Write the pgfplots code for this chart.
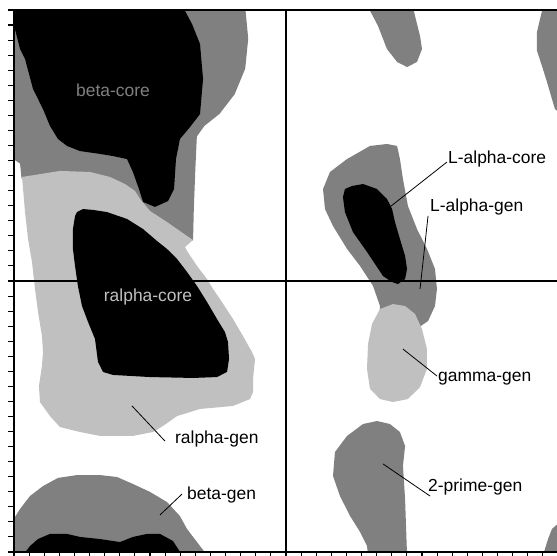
\documentclass[border=0pt]{standalone}
\usepackage{pgfplots}
\pgfplotsset{compat=1.18}
\usepackage{fontspec}
\setmainfont{Liberation Sans}
\definecolor{dgray}{HTML}{808080}
\definecolor{lgray}{HTML}{C0C0C0}
\tikzset{lbl/.style={font=\fontsize{17.5}{20}\selectfont, inner sep=0pt}}
\begin{document}
\begin{tikzpicture}
\useasboundingbox (0,0) rectangle (557bp,556bp);
\begin{axis}[
  at={(14bp,4bp)}, anchor=south west,
  scale only axis, width=544bp, height=542bp,
  xmin=-180, xmax=180, ymin=-180, ymax=180,
  xtick={-180,-170,...,180}, ytick={-180,-170,...,180},
  xticklabels={}, yticklabels={},
  tick align=outside, major tick length=6bp, tick pos=left,
  tick style={black, line width=1.1bp},
  axis line style={black, line width=1.3bp},
  axis on top, no markers,
]
% ---------- general (dark gray) regions ----------
\addplot[fill=dgray, draw=none] coordinates {
 (-182,182) (-27,182) (-25,161) (-27,141) (-34,124) (-44,111) (-54,103)
 (-59,96) (-60,74) (-61,48) (-61.5,27) (-90,31) (-123,55) (-175,68)
 (-176,78) (-182,82)};
\addplot[fill=dgray, draw=none] coordinates {
 (-182,-158.1) (-179.4,-156.8) (-176,-151.4) (-169.4,-142.8) (-160.8,-136.2)
 (-150.9,-130.8) (-138.3,-128.9) (-123.1,-128.9) (-111.8,-130.2) (-101.3,-134.8)
 (-90,-140.1) (-78.8,-146.8) (-70.2,-156.1) (-65.5,-164.7) (-58.9,-173.4)
 (-52.3,-182) (-182,-182)};
\addplot[fill=dgray, draw=none] coordinates {
 (170.1,182) (168.1,174) (166.1,165.4) (166.1,152.8) (169.4,142.8)
 (172.7,132.2) (176,120.9) (178,114.2) (182,111) (182,182)};
\addplot[fill=dgray, draw=none] coordinates {
 (170.1,-182) (173.4,-171.4) (176,-164.7) (182,-159.4) (182,-182)};
\addplot[fill=dgray, draw=none] coordinates {
 (54.3,182) (60.9,169.4) (66.8,154.1) (73.5,145.5) (80.1,142.1)
 (86.7,145.5) (90,154.1) (88.7,162.7) (85.4,176) (84,182)};
\addplot[fill=dgray, draw=none] coordinates {
 (66.8,91) (55.6,89.7) (40.4,81) (29.1,72.4) (24.5,61.1) (25.8,47.8)
 (31.1,36.5) (40.4,21.3) (49,10) (57.6,-3.3) (62.2,-16.6) (62.2,-28.6)
 (72.1,-33.2) (85.4,-32.5) (94,-26.6) (98.6,-16.6) (99.9,-5.3) (98.6,8)
 (93.3,21.3) (86.7,34.5) (80.7,49.8) (77.4,67.7) (75.4,81) (73.5,89.7)};
\addplot[fill=dgray, draw=none] coordinates {
 (60.2,-93) (51,-95) (40.4,-102.9) (32.4,-113.6) (31.1,-129.5) (35.7,-142.8)
 (42.4,-156.1) (49,-166.7) (53.6,-176) (54.3,-182) (80.1,-182) (78.8,-144.8)
 (77.4,-122.9) (78.8,-109.6) (75.4,-100.3) (68.8,-95)};
% ---------- light gray regions ----------
\addplot[fill=lgray, draw=none] coordinates {
 (-174.7,69.1) (-149.6,73.1) (-129.7,72.4) (-116.5,69.1) (-106.5,64.4)
 (-99.9,59.8) (-96.6,54.5) (-90,46.5) (-78.8,39.2) (-65.5,29.9) (-61.5,27.2)
 (-66.8,22.6) (-65.5,19.9) (-58.9,10) (-52.3,1.3) (-48.3,-5.3) (-43.7,-12)
 (-35.1,-25.2) (-28.5,-36.5) (-22.5,-47.2) (-20.5,-51.8) (-21.8,-65.1)
 (-21.8,-73.7) (-23.8,-78.4) (-35.1,-83) (-56.9,-85) (-72.1,-89.7)
 (-81.4,-96.3) (-88,-100.3) (-101.3,-102.9) (-123.1,-102.9) (-136.3,-100.3)
 (-149.6,-97) (-156.2,-89.7) (-162.8,-80.4) (-163.5,-69.7) (-161.5,-56.5)
 (-160.8,-47.2) (-161.5,-36.5) (-164.1,-20.6) (-166.1,-5.3) (-168.1,12.6)
 (-170.7,27.9) (-172.7,45.8) (-174,61.1)};
\addplot[fill=lgray, draw=none] coordinates {
 (62.2,-18.6) (70.8,-15.3) (78.8,-16.6) (85.4,-21.9) (90,-31.9) (93.3,-45.2)
 (93.3,-58.4) (88.7,-70.4) (80.7,-78.4) (70.8,-80.4) (62.2,-78.4) (55.6,-71.7)
 (53.6,-58.4) (54.3,-41.8) (56.9,-28.6)};
% ---------- core (black) regions ----------
\addplot[fill=black, draw=none] coordinates {
 (-182,182) (-68.2,182) (-62.2,170.7) (-56.9,157.4) (-54.9,134.2) (-56.9,110.9)
 (-63.5,102.3) (-70.2,94.3) (-72.8,81) (-74.1,61.1) (-78.1,53.1) (-86.7,49.2)
 (-94.6,52.5) (-97.3,61.1) (-101.3,72.4) (-105.2,81) (-114.5,83) (-123.1,84.4)
 (-136.3,86.3) (-144.9,89.7) (-150.9,94.3) (-156.2,103) (-160.8,114.2)
 (-167.4,127.5) (-172.7,147.5) (-176,154.1) (-179.4,167.4) (-182,176)};
\addplot[fill=black, draw=none] coordinates {
 (-138.3,45.8) (-134.3,47.8) (-127.7,47.2) (-118.5,45.8) (-105.2,41.2)
 (-94.6,34.5) (-85.4,26.6) (-78.8,21.3) (-72.1,14.6) (-65.5,6) (-58.9,-3.3)
 (-52.3,-13.9) (-45.7,-25.2) (-40.4,-33.9) (-38.4,-40.5) (-37.7,-51.8)
 (-39,-60.4) (-45.7,-63.8) (-61.5,-64.4) (-90,-63.8) (-114.5,-62.4)
 (-121.1,-60.4) (-124.4,-53.8) (-126.4,-38.5) (-131,-27.2) (-135,-16.6)
 (-137.7,-3.3) (-139.6,10) (-141,21.3) (-141,34.5) (-139.6,43.2)};
\addplot[fill=black, draw=none] coordinates {
 (-174,-182) (-169.4,-176) (-164.1,-171.4) (-156.2,-168) (-144.9,-168)
 (-136.3,-170) (-123.1,-171.4) (-109.9,-173.4) (-101.3,-170) (-92,-168)
 (-83.4,-168) (-74.8,-172.7) (-68.8,-182)};
\addplot[fill=black, draw=none] coordinates {
 (43.7,63.1) (51,64.4) (60.2,61.1) (66.8,54.5) (70.2,47.8) (72.1,39.2)
 (75.4,27.9) (78.8,16.6) (80.1,8) (78.8,1.3) (74.1,-2) (70.2,-0.7)
 (64.2,3.3) (53.6,19.3) (44.3,32.5) (39,45.8) (37.7,55.8) (39,61.1)};
% ---------- cross lines ----------
\addplot[black, line width=1.2bp] coordinates {(0,-180) (0,180)};
\addplot[black, line width=1.2bp] coordinates {(-180,0) (180,0)};
% ---------- leader lines ----------
\addplot[black, line width=0.8bp] coordinates {(-101.9,-83) (-80.1,-106.3)};
\addplot[black, line width=0.8bp] coordinates {(-68.8,-141.5) (-83.4,-155.4)};
\addplot[black, line width=0.8bp] coordinates {(64.2,-121.5) (95.3,-142.8)};
\addplot[black, line width=0.8bp] coordinates {(77.4,-45.2) (99.9,-63.1)};
\addplot[black, line width=0.8bp] coordinates {(106.5,79) (68.8,49.2)};
\addplot[black, line width=0.8bp] coordinates {(94,43.2) (88.7,-5.3)};
% ---------- labels ----------
\node[lbl, text=dgray] at (axis cs:-114.5,126.9) {beta-core};
\node[lbl, text=lgray] at (axis cs:-91.3,-10.6) {ralpha-core};
\node[lbl, anchor=west] at (axis cs:-73.5,-105) {ralpha-gen};
\node[lbl, anchor=west] at (axis cs:-65.5,-142.1) {beta-gen};
\node[lbl, anchor=west] at (axis cs:94,-136.8) {2-prime-gen};
\node[lbl, anchor=west] at (axis cs:100.6,-65.1) {gamma-gen};
\node[lbl, anchor=west] at (axis cs:107.2,81) {L-alpha-core};
\node[lbl, anchor=west] at (axis cs:95.3,49.2) {L-alpha-gen};
\end{axis}
\end{tikzpicture}
\end{document}
